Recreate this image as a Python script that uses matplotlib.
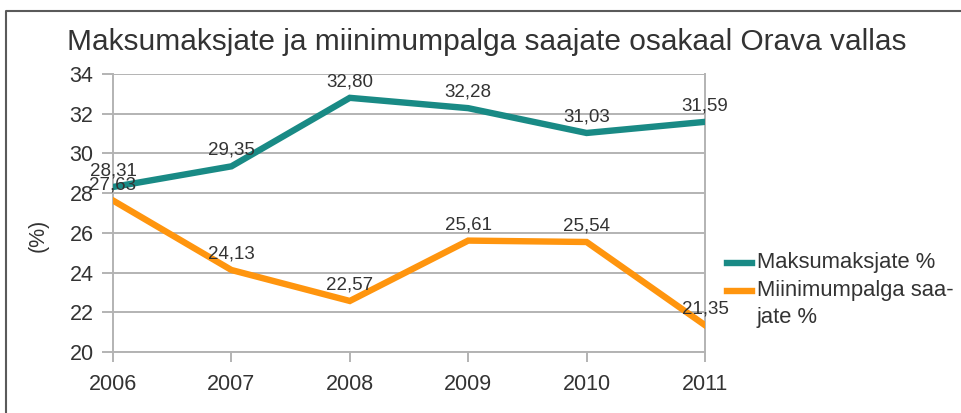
import matplotlib.pyplot as plt
from matplotlib.lines import Line2D

years = ["2006", "2007", "2008", "2009", "2010", "2011"]
maksumaksjad = [28.31, 29.35, 32.80, 32.28, 31.03, 31.59]
miinimumpalk = [27.63, 24.13, 22.57, 25.61, 25.54, 21.35]
series_names = ["Maksumaksjate %", "Miinimumpalga saa-\njate %"]
colors = ["#198a85", "#ff950e"]
title = "Maksumaksjate ja miinimumpalga saajate osakaal Orava vallas"

plt.rcParams["font.family"] = ["Liberation Sans", "DejaVu Sans"]
txt = "#333333"
grid = "#b3b3b3"

W, H = 961, 413
fig = plt.figure(figsize=(W / 100, H / 100), dpi=100)
ax = fig.add_axes([113 / W, 1 - 352 / H, (705 - 113) / W, (352 - 74) / H])

x = list(range(len(years)))
for vals, c in zip([maksumaksjad, miinimumpalk], colors):
    ax.plot(x, vals, color=c, lw=4.6, solid_joinstyle="miter", zorder=3)
    for xi, v in zip(x, vals):
        ax.annotate(f"{v:.2f}".replace(".", ","), (xi, v), xytext=(0, 11.5),
                    textcoords="offset points", ha="center", va="center",
                    fontsize=13.5, color=txt, zorder=4)

ax.set_xlim(0, len(years) - 1)
ax.set_ylim(20, 34)
ax.set_yticks(range(20, 35, 2))
ax.set_xticks(x)
ax.set_xticklabels(years)
ax.yaxis.grid(True, color=grid, lw=1.4)
ax.set_axisbelow(True)
for s in ["left", "right", "bottom"]:
    ax.spines[s].set_color(grid)
    ax.spines[s].set_linewidth(1.4)
ax.spines["top"].set_visible(False)
ax.tick_params(axis="y", length=8, width=1.4, color=grid, pad=6,
               labelsize=15.5, labelcolor=txt)
ax.tick_params(axis="x", length=7.5, width=1.4, color=grid, pad=8,
               labelsize=15.5, labelcolor=txt)

fig.text(38 / W, 1 - 235 / H, "(%)", rotation=90, ha="center", va="center",
         fontsize=15.5, color=txt)
fig.text(487 / W, 1 - 42 / H, title, ha="center", va="center",
         fontsize=21.5, color=txt)

# legend drawn by hand so the handle lines up with the first text line
leg_y = [263, 291]
for name, c, yy in zip(series_names, colors, leg_y):
    fig.add_artist(Line2D([727 / W, 752 / W], [1 - yy / H, 1 - yy / H],
                          color=c, lw=4.6, transform=fig.transFigure))
    fig.text(757 / W, 1 - (yy - 11) / H, name, ha="left", va="top",
             fontsize=15.8, color=txt, linespacing=1.35)

# chart border (left and top)
fig.add_artist(Line2D([6 / W, 6 / W, 1], [0, 1 - 11 / H, 1 - 11 / H],
                      color="#5a5a5a", lw=1.5, transform=fig.transFigure))

fig.savefig("out.png", dpi=100)
